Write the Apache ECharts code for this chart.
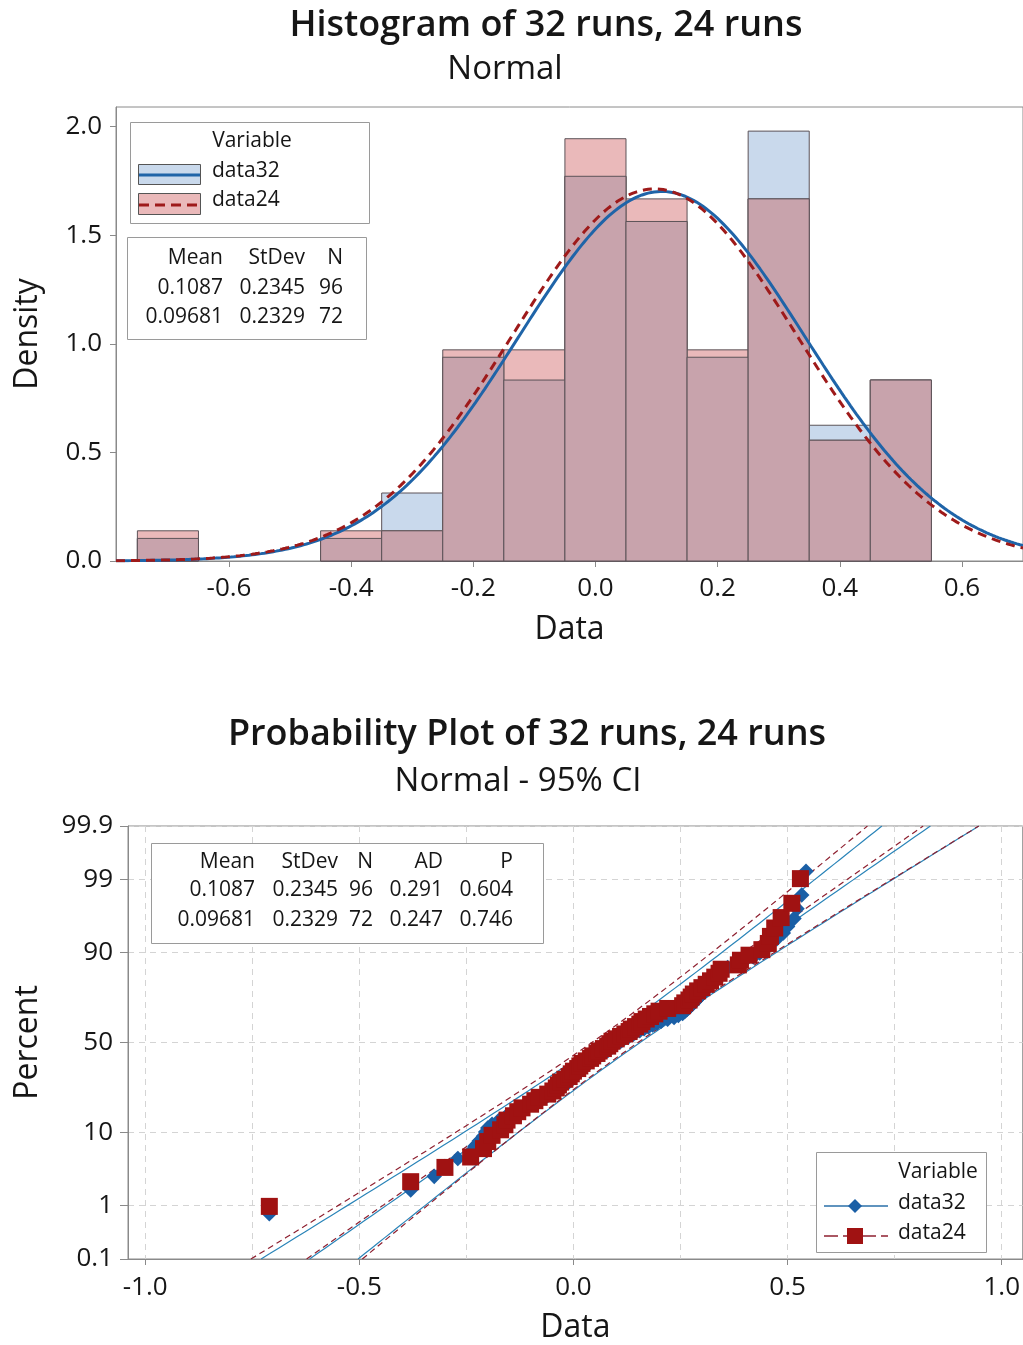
<!DOCTYPE html>
<html><head><meta charset="utf-8">
<script src="https://cdn.jsdelivr.net/npm/echarts@6/dist/echarts.min.js"></script>
<style>html,body{margin:0;padding:0;background:#fff}#c{width:1023px;height:1345px}</style>
</head><body><div id="c"></div><script>
// ---------- DATA ----------
const binLeft = [-0.75,-0.65,-0.55,-0.45,-0.35,-0.25,-0.15,-0.05,0.05,0.15,0.25,0.35,0.45];
const binWidth = 0.1;
const density32 = [0.104,0,0,0.104,0.313,0.938,0.833,1.771,1.563,0.938,1.979,0.625,0.833];
const density24 = [0.139,0,0,0.139,0.139,0.972,0.972,1.944,1.667,0.972,1.667,0.556,0.833];
const seriesNames = ['data32','data24'];
const fitMean = [0.1087, 0.09681];
const fitSD = [0.2345, 0.2329];
const fitN = [96, 72];
const adStat = [0.291, 0.247];
const pValue = [0.604, 0.746];
const data32 = [-0.71,-0.38,-0.325,-0.30,-0.27,
 -0.24,-0.23,-0.22,-0.21,-0.205,-0.20,-0.19,-0.175,-0.16,
 -0.145,-0.135,-0.12,-0.11,-0.10,-0.09,-0.075,-0.06,
 -0.045,-0.04,-0.03,-0.025,-0.02,-0.01,-0.005,0.0,0.005,0.01,0.015,0.02,0.025,0.03,0.035,0.04,0.045,
 0.055,0.06,0.065,0.07,0.08,0.085,0.09,0.095,0.10,0.11,0.115,0.12,0.13,0.14,0.145,
 0.155,0.165,0.175,0.185,0.195,0.205,0.22,0.235,0.245,
 0.255,0.26,0.265,0.27,0.275,0.28,0.285,0.29,0.295,0.30,0.305,0.31,0.315,0.32,0.325,0.33,0.335,0.34,0.345,
 0.36,0.38,0.40,0.42,0.435,0.445,
 0.46,0.475,0.49,0.50,0.515,0.522,0.533,0.543];
const data24 = [-0.71,-0.38,-0.30,
 -0.24,-0.21,-0.20,-0.19,-0.17,-0.16,-0.155,
 -0.14,-0.13,-0.12,-0.10,-0.09,-0.08,-0.06,
 -0.048,-0.04,-0.035,-0.03,-0.02,-0.01,-0.005,0.0,0.01,0.015,0.02,0.03,0.04,0.045,
 0.055,0.06,0.07,0.08,0.085,0.09,0.10,0.11,0.12,0.13,0.135,0.145,
 0.155,0.16,0.17,0.18,0.19,0.20,0.22,
 0.255,0.26,0.27,0.275,0.28,0.29,0.30,0.31,0.32,0.33,0.34,0.345,
 0.385,0.39,0.41,0.44,
 0.455,0.46,0.47,0.485,0.51,0.53];
const histXTicks = [-0.6,-0.4,-0.2,0,0.2,0.4,0.6];
const histYTicks = [0,0.5,1,1.5,2];
const percentTicks = [0.1,1,10,50,90,99,99.9];
const probXTicks = [-1,-0.5,0,0.5,1];
const probXGrid = [-1,-0.75,-0.5,-0.25,0,0.25,0.5,0.75,1];

// ---------- helpers ----------
const FONT = 'Open Sans';
const TXT = '#161616';
const AX = '#8a8a8a';
const BLUE = '#1f64a8', RED = '#9e1a1a';
const FILL32 = '#c9d9ec', FILL24 = '#eab9ba', FILLOV = '#c8a3ac';
function normInv(p){
 const a=[-3.969683028665376e+01,2.209460984245205e+02,-2.759285104469687e+02,1.383577518672690e+02,-3.066479806614716e+01,2.506628277459239e+00];
 const b=[-5.447609879822406e+01,1.615858368580409e+02,-1.556989798598866e+02,6.680131188771972e+01,-1.328068155288572e+01];
 const c=[-7.784894002430293e-03,-3.223964580411365e-01,-2.400975902370112e+00,-2.549732539343734e+00,4.374664141464968e+00,2.938163982698783e+00];
 const d=[7.784695709041462e-03,3.224671290700398e-01,2.445134137142996e+00,3.754408661907416e+00];
 const pl=0.02425, ph=1-pl; let q,r;
 if(p<pl){q=Math.sqrt(-2*Math.log(p));return (((((c[0]*q+c[1])*q+c[2])*q+c[3])*q+c[4])*q+c[5])/((((d[0]*q+d[1])*q+d[2])*q+d[3])*q+1);}
 if(p<=ph){q=p-0.5;r=q*q;return (((((a[0]*r+a[1])*r+a[2])*r+a[3])*r+a[4])*r+a[5])*q/(((((b[0]*r+b[1])*r+b[2])*r+b[3])*r+b[4])*r+1);}
 q=Math.sqrt(-2*Math.log(1-p));return -(((((c[0]*q+c[1])*q+c[2])*q+c[3])*q+c[4])*q+c[5])/((((d[0]*q+d[1])*q+d[2])*q+d[3])*q+1);
}
const zTicks = percentTicks.map(p=>normInv(p/100));
const zMin = normInv(0.001) - 1e-6, zMax = normInv(0.999) + 1e-6;
const hxMin = -0.785, hxMax = 0.70;

function barData(dens){ return binLeft.map((l,i)=>[l, l+binWidth, dens[i]]).filter(d=>d[2]>0); }
function barRender(fill){
 return function(params, api){
  const a = api.coord([api.value(0), api.value(2)]);
  const b = api.coord([api.value(1), 0]);
  return {type:'rect', shape:{x:a[0], y:a[1], width:b[0]-a[0], height:b[1]-a[1]},
   style:{fill:fill, stroke:'#5c5358', lineWidth:1}};
 };
}
const overlap = density32.map((v,i)=>Math.min(v, density24[i]));

function pdfCurve(m, s){
 const pts=[]; const N=300;
 for(let k=0;k<=N;k++){ const x=hxMin+(hxMax-hxMin)*k/N; pts.push([x, Math.exp(-0.5*((x-m)/s)**2)/(s*Math.sqrt(2*Math.PI))]); }
 return pts;
}
function zGrid(){ const a=[]; for(let k=0;k<=80;k++) a.push(zMin+(zMax-zMin)*k/80); return a; }
function fitLine(i, side){
 const m=fitMean[i], s=fitSD[i], n=fitN[i];
 return zGrid().map(z=>{ const se = s*Math.sqrt(1/n + z*z/(2*(n-1))); return [m + s*z + side*1.96*se, z]; });
}
function plotPositions(arr){ const n=arr.length; return arr.map((v,i)=>[v, normInv((i+1-0.3)/(n+0.4))]); }

// ---------- chart ----------
const chart = echarts.init(document.getElementById('c'));
const axisLineStyle = {onZero:false, lineStyle:{color:AX, width:1}};
const labelStyle = {color:TXT, fontSize:26, fontFamily:FONT};
const nameStyle = {color:TXT, fontSize:32, fontFamily:FONT};
const grid = [
 {left:116, top:107, width:908, height:454, show:true, borderColor:AX, borderWidth:1, backgroundColor:'#fff'},
 {left:128, top:826, width:896, height:437, show:true, borderColor:AX, borderWidth:1, backgroundColor:'#fff'}
];
const xAxis = [
 {gridIndex:0, type:'value', min:hxMin, max:hxMax, axisLine:axisLineStyle,
  axisTick:{customValues:histXTicks, length:6, lineStyle:{color:AX}},
  axisLabel:Object.assign({customValues:histXTicks, margin:15, formatter:v=>v.toFixed(1)}, labelStyle),
  splitLine:{show:false}, name:'Data', nameLocation:'middle', nameGap:53, nameTextStyle:nameStyle},
 {gridIndex:1, type:'value', min:-1.04, max:1.049, axisLine:axisLineStyle,
  axisTick:{customValues:probXTicks, length:6, lineStyle:{color:AX}},
  axisLabel:Object.assign({customValues:probXTicks, margin:16, formatter:v=>v.toFixed(1)}, labelStyle),
  splitLine:{show:false}, name:'Data', nameLocation:'middle', nameGap:53, nameTextStyle:nameStyle},
 {gridIndex:1, type:'value', min:-1.04, max:1.049, position:'top', axisLine:{show:false, onZero:false},
  axisTick:{show:false, customValues:probXGrid}, axisLabel:{show:false, customValues:probXGrid},
  splitLine:{show:true, lineStyle:{color:'#d4d4d4', type:[6,5], width:1}}}
];
const yAxis = [
 {gridIndex:0, type:'value', min:0, max:2.09, axisLine:{show:true, onZero:false, lineStyle:{color:AX}},
  axisTick:{show:true, customValues:histYTicks, length:6, lineStyle:{color:AX}},
  axisLabel:Object.assign({customValues:histYTicks, margin:14, formatter:v=>v.toFixed(1)}, labelStyle),
  splitLine:{show:false}, name:'Density', nameLocation:'middle', nameGap:72, nameRotate:90, nameTextStyle:nameStyle},
 {gridIndex:1, type:'value', min:zMin, max:zMax, axisLine:{show:true, onZero:false, lineStyle:{color:AX}},
  axisTick:{show:true, customValues:zTicks, length:8, lineStyle:{color:AX}},
  axisLabel:Object.assign({customValues:zTicks, showMaxLabel:true, showMinLabel:true, margin:15, formatter:v=>{ let k=0,b=1e9; zTicks.forEach((z,j)=>{const d=Math.abs(z-v); if(d<b){b=d;k=j;}}); return String(percentTicks[k]); }}, labelStyle),
  splitLine:{show:true, lineStyle:{color:'#d4d4d4', type:[6,5], width:1}},
  name:'Percent', nameLocation:'middle', nameGap:84, nameRotate:90, nameTextStyle:nameStyle}
];

const series = [
 {type:'custom', name:'data32', xAxisIndex:0, yAxisIndex:0, renderItem:barRender(FILL32), data:barData(density32), encode:{x:[0,1], y:2}, z:2, silent:true},
 {type:'custom', name:'data24', xAxisIndex:0, yAxisIndex:0, renderItem:barRender(FILL24), data:barData(density24), encode:{x:[0,1], y:2}, z:2, silent:true},
 {type:'custom', name:'overlap', xAxisIndex:0, yAxisIndex:0, renderItem:barRender(FILLOV), data:barData(overlap), encode:{x:[0,1], y:2}, z:2, silent:true},
 {type:'line', name:'data32 fit', xAxisIndex:0, yAxisIndex:0, data:pdfCurve(fitMean[0],fitSD[0]), showSymbol:false, lineStyle:{color:BLUE, width:3}, z:3, silent:true},
 {type:'line', name:'data24 fit', xAxisIndex:0, yAxisIndex:0, data:pdfCurve(fitMean[1],fitSD[1]), showSymbol:false, lineStyle:{color:RED, width:3, type:[9,6]}, z:4, silent:true}
];
[-1,0,1].forEach(side=>{
 series.push({type:'line', xAxisIndex:1, yAxisIndex:1, data:fitLine(0,side), showSymbol:false, lineStyle:{color:'#2a84b8', width:1.2}, z:3, silent:true});
 series.push({type:'line', xAxisIndex:1, yAxisIndex:1, data:fitLine(1,side), showSymbol:false, lineStyle:{color:'#8e2030', width:1.2, type:[6,4]}, z:3, silent:true});
});
series.push({type:'scatter', name:'data32', xAxisIndex:1, yAxisIndex:1, data:plotPositions(data32), symbol:'rect', symbolRotate:45, symbolSize:11, itemStyle:{color:'#1a5fa6', opacity:1}, z:5, silent:true});
series.push({type:'scatter', name:'data24', xAxisIndex:1, yAxisIndex:1, data:plotPositions(data24), symbol:'rect', symbolSize:17, itemStyle:{color:'#a01212', opacity:1}, z:6, silent:true});

// ---------- annotations ----------
function t(text, x, y, opts){ return {type:'text', x:x, y:y, z:100, style:Object.assign({text:text, fill:TXT, font:'21px "'+FONT+'"', textAlign:'left', textVerticalAlign:'middle'}, opts||{})}; }
const g = [];
g.push(t('Histogram of 32 runs, 24 runs', 546, 26, {font:'600 36px "'+FONT+'"', textAlign:'center'}));
g.push(t('Normal', 505, 70, {font:'33px "'+FONT+'"', textAlign:'center'}));
g.push(t('Probability Plot of 32 runs, 24 runs', 527, 735, {font:'600 36px "'+FONT+'"', textAlign:'center'}));
g.push(t('Normal - 95% CI', 518, 782, {font:'33px "'+FONT+'"', textAlign:'center'}));
// histogram legend
g.push({type:'rect', z:90, shape:{x:130.5, y:122.5, width:239, height:101}, style:{fill:'#fff', stroke:'#9a9a9a', lineWidth:1}});
g.push(t('Variable', 252, 141, {textAlign:'center'}));
g.push({type:'rect', z:95, shape:{x:138.5, y:164.5, width:62, height:20}, style:{fill:FILL32, stroke:'#555', lineWidth:1}});
g.push({type:'line', z:96, shape:{x1:139, y1:175, x2:200, y2:175}, style:{stroke:BLUE, lineWidth:3}});
g.push(t(seriesNames[0], 212, 171));
g.push({type:'rect', z:95, shape:{x:138.5, y:193.5, width:62, height:21}, style:{fill:FILL24, stroke:'#555', lineWidth:1}});
g.push({type:'line', z:96, shape:{x1:139, y1:205, x2:200, y2:205}, style:{stroke:RED, lineWidth:3, lineDash:[10,6]}});
g.push(t(seriesNames[1], 212, 200));
// histogram stats table
g.push({type:'rect', z:90, shape:{x:127.5, y:237.5, width:239, height:102}, style:{fill:'#fff', stroke:'#9a9a9a', lineWidth:1}});
const hc = [223, 305, 343];
['Mean','StDev','N'].forEach((h,j)=>g.push(t(h, hc[j], 258, {textAlign:'right'})));
[0,1].forEach(i=>{
 const y = 288 + i*29;
 g.push(t(String(fitMean[i]), hc[0], y, {textAlign:'right'}));
 g.push(t(fitSD[i].toFixed(4), hc[1], y, {textAlign:'right'}));
 g.push(t(String(fitN[i]), hc[2], y, {textAlign:'right'}));
});
// probability stats table
g.push({type:'rect', z:90, shape:{x:151.5, y:843.5, width:392, height:100}, style:{fill:'#fff', stroke:'#9a9a9a', lineWidth:1}});
const pc = [255, 338, 373, 443, 513];
['Mean','StDev','N','AD','P'].forEach((h,j)=>g.push(t(h, pc[j], 862, {textAlign:'right'})));
[0,1].forEach(i=>{
 const y = 890 + i*30;
 [String(fitMean[i]), fitSD[i].toFixed(4), String(fitN[i]), adStat[i].toFixed(3), pValue[i].toFixed(3)].forEach((s,j)=>g.push(t(s, pc[j], y, {textAlign:'right'})));
});
// probability legend
g.push({type:'rect', z:90, shape:{x:816.5, y:1152.5, width:170, height:100}, style:{fill:'#fff', stroke:'#9a9a9a', lineWidth:1}});
g.push(t('Variable', 938, 1172, {textAlign:'center'}));
g.push({type:'line', z:95, shape:{x1:824, y1:1206, x2:888, y2:1206}, style:{stroke:'#2a6fa8', lineWidth:1.5}});
g.push({type:'polygon', z:96, shape:{points:[[855,1199],[862,1206],[855,1213],[848,1206]]}, style:{fill:'#1a5fa6'}});
g.push(t(seriesNames[0], 898, 1203));
g.push({type:'line', z:95, shape:{x1:824, y1:1236, x2:888, y2:1236}, style:{stroke:'#8e2030', lineWidth:1.5, lineDash:[14,5]}});
g.push({type:'rect', z:96, shape:{x:847, y:1228, width:16, height:16}, style:{fill:'#a01212'}});
g.push(t(seriesNames[1], 898, 1233));

chart.setOption({animation:false, backgroundColor:'#fff', textStyle:{fontFamily:FONT}, grid:grid, xAxis:xAxis, yAxis:yAxis, series:series, graphic:{elements:g}});
</script></body></html>
